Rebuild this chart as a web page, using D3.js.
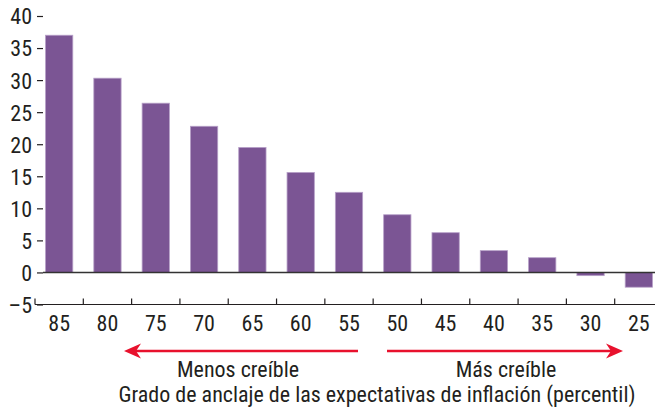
<!DOCTYPE html>
<html>
<head>
<meta charset="utf-8">
<script src="https://cdn.jsdelivr.net/npm/d3@7"></script>
<style>
  body { margin: 0; background: #fff; }
  svg { display: block; font-family: "Roboto Condensed", "Liberation Sans Narrow", sans-serif; }
  .lbl { fill: #231f20; font-size: 22px; }
</style>
</head>
<body>
<div id="chart"></div>
<script>
// percentiles of inflation expectation anchoring, left to right
const percentiles = ['85', '80', '75', '70', '65', '60', '55', '50', '45', '40', '35', '30', '25'];
const values = [37.0, 30.3, 26.4, 22.8, 19.5, 15.6, 12.5, 9.0, 6.2, 3.4, 2.3, -0.5, -2.3];
const yTicks = [40, 35, 30, 25, 20, 15, 10, 5, 0, -5];
const arrowLabels = ['Menos creíble', 'Más creíble'];
const xTitle = 'Grado de anclaje de las expectativas de inflación (percentil)';

const width = 655, height = 408;
const C = {
  bar_fill: '#7b5594',
  bar_stroke: '#b7a0c8',
  axis_color: '#231f20',
  arrow_color: '#e8112d',
};

const svg = d3.select('#chart').append('svg')
  .attr('width', width)
  .attr('height', height);

const x = d3.scaleBand()
  .domain(percentiles)
  .range([35, 663])
  .paddingInner(0.435)
  .paddingOuter(0.2175);

const y = d3.scaleLinear()
  .domain([-5, 40])
  .range([304.5, 16]);

// y axis: short tick dashes, no domain line
const yAxis = svg.append('g')
  .attr('transform', 'translate(43,0)')
  .call(d3.axisLeft(y).tickValues(yTicks).tickSize(6).tickPadding(5)
    .tickFormat(d => d < 0 ? '\u2013' + Math.abs(d) : d));
yAxis.select('.domain').remove();
yAxis.selectAll('line').attr('stroke', C.axis_color).attr('stroke-width', 1.2);
yAxis.selectAll('text').attr('class', 'lbl').attr('dy', '0.36em');
yAxis.attr('font-family', null).attr('font-size', null);

// bars
svg.append('g').selectAll('rect')
  .data(values)
  .join('rect')
  .attr('x', (d, i) => x(percentiles[i]))
  .attr('width', x.bandwidth())
  .attr('y', d => y(Math.max(0, d)))
  .attr('height', d => Math.abs(y(d) - y(0)))
  .attr('fill', C.bar_fill)
  .attr('stroke', C.bar_stroke)
  .attr('stroke-width', 0.8);

// zero line
svg.append('line')
  .attr('x1', 43).attr('x2', width)
  .attr('y1', y(0)).attr('y2', y(0))
  .attr('stroke', '#333').attr('stroke-width', 1.6);

// bottom axis with category boundary ticks pointing up
const bandStart = d => x(d) - (x.step() - x.bandwidth()) / 2;
const xb = svg.append('g');
xb.append('line')
  .attr('x1', x.range()[0]).attr('x2', width)
  .attr('y1', y(-5)).attr('y2', y(-5))
  .attr('stroke', C.axis_color).attr('stroke-width', 1.2);
xb.selectAll('.bound')
  .data(percentiles)
  .join('line')
  .attr('x1', bandStart).attr('x2', bandStart)
  .attr('y1', y(-5)).attr('y2', y(-5) - 6)
  .attr('stroke', C.axis_color).attr('stroke-width', 1.2);
xb.selectAll('text')
  .data(percentiles)
  .join('text')
  .attr('class', 'lbl')
  .attr('x', d => x(d) + x.bandwidth() / 2)
  .attr('y', 331)
  .attr('text-anchor', 'middle')
  .text(d => d);

// direction arrows
const arrowY = 351;
const arrows = [
  {from: 358, to: 124, label: arrowLabels[0], lx: 238},
  {from: 387, to: 623, label: arrowLabels[1], lx: 506},
];
const ag = svg.append('g');
arrows.forEach(a => {
  const dir = Math.sign(a.to - a.from);
  ag.append('line')
    .attr('x1', a.from).attr('x2', a.to - dir * 10)
    .attr('y1', arrowY).attr('y2', arrowY)
    .attr('stroke', C.arrow_color).attr('stroke-width', 2.5);
  ag.append('path')
    .attr('d', `M${a.to},${arrowY} L${a.to - dir * 17},${arrowY - 7.5} L${a.to - dir * 12},${arrowY} L${a.to - dir * 17},${arrowY + 7.5} Z`)
    .attr('fill', C.arrow_color);
  ag.append('text')
    .attr('class', 'lbl')
    .attr('x', a.lx).attr('y', 377)
    .attr('text-anchor', 'middle')
    .text(a.label);
});

svg.append('text')
  .attr('class', 'lbl')
  .attr('x', 377).attr('y', 402)
  .attr('text-anchor', 'middle')
  .text(xTitle);
</script>
</body>
</html>
